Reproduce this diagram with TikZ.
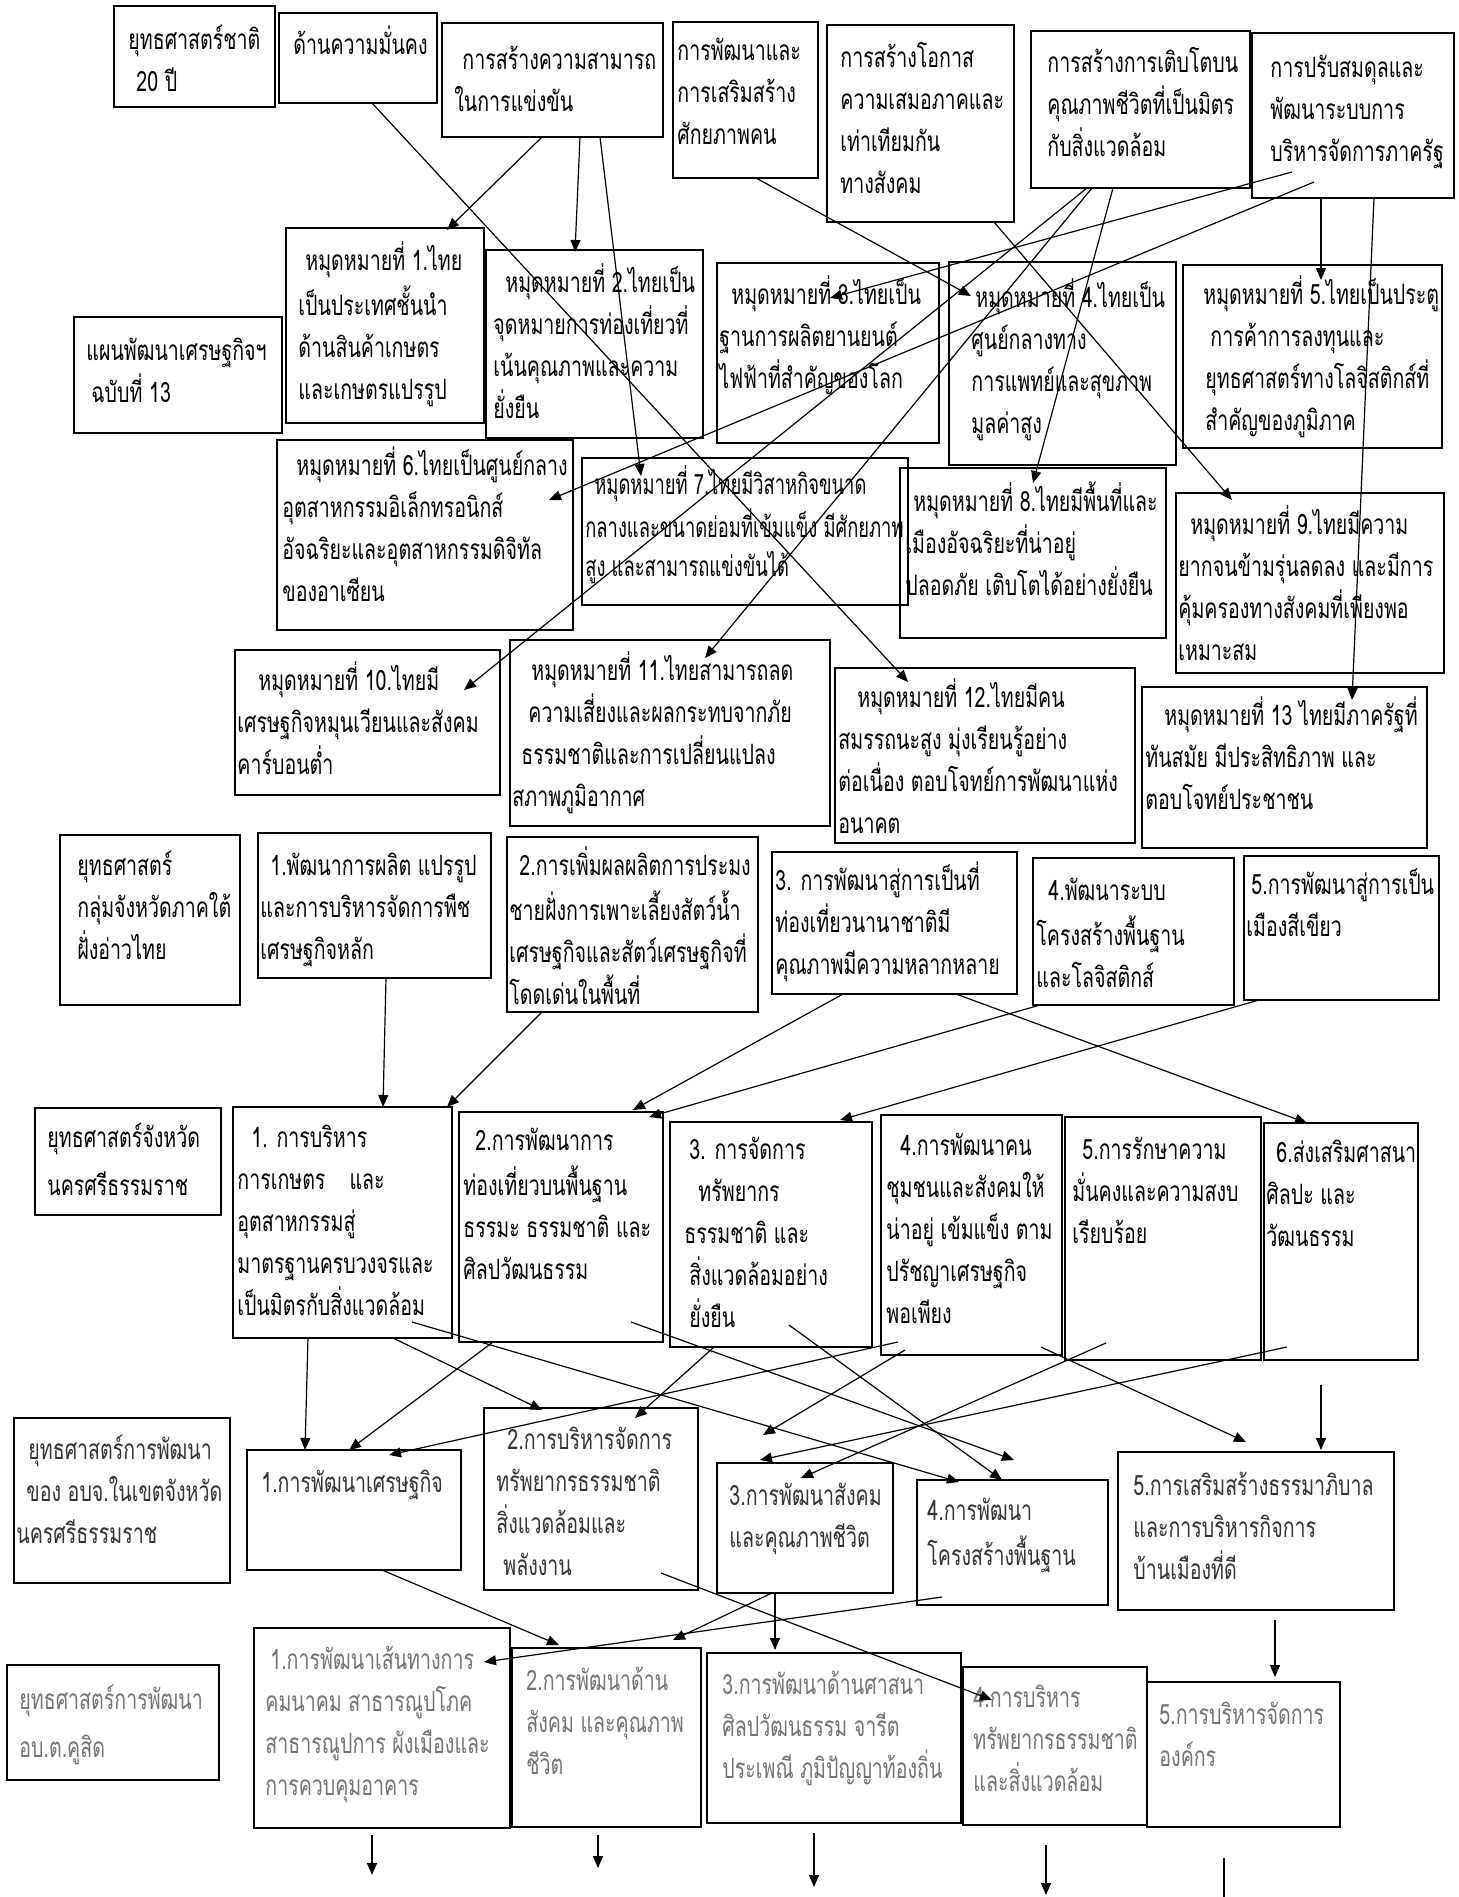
\documentclass[tikz,border=0pt]{standalone}
\usepackage{fontspec}
\newfontfamily\thaifont[Script=Thai,FakeStretch=0.70]{Loma}
\newfontfamily\thainarrow[Script=Thai,FakeStretch=0.655]{Loma}
\usetikzlibrary{calc,arrows.meta}
\newcommand\mkbox[5]{\node[box,minimum width=#4*0.5pt,minimum height=#5*0.5pt] (#1) at (#2,#3) {};}
\newcommand\boxlabel[5][]{\node[lbl,#1] (#2t) at ($(#2.north west)+(#3,#4)$) {\strut #5};}
\newcommand\indt[1]{\hspace*{#1pt}}
\begin{document}
\begin{tikzpicture}[x=0.5pt,y=-0.5pt,
  box/.style={draw,line width=1pt,anchor=north west,inner sep=0pt,outer sep=0pt},
  lbl/.style={anchor=north west,inner sep=0pt,align=left,font=\fontsize{14}{21}\thaifont},
  narrowtext/.style={font=\fontsize{14}{20}\thainarrow},
  qtext/.style={text=black!80},
  faded/.style={text=black!55},
  ln/.style={line width=0.6pt},
  arr/.style={line width=0.6pt,-{Triangle[length=6pt,width=5pt]}}]
\fill[white] (0,0) rectangle (1458,1897);
\useasboundingbox (0,0) rectangle (1458,1897);
% ---------- boxes ----------
\mkbox{A0}{114}{6}{161}{101}
\mkbox{A1}{279}{13}{158}{90}
\mkbox{A2}{442}{23}{221}{114}
\mkbox{A3}{673}{22}{145}{156}
\mkbox{A4}{827}{25}{187}{197}
\mkbox{A5}{1031}{31}{219}{157}
\mkbox{A6}{1252}{33}{202}{165}
\mkbox{M1}{286}{228}{198}{195}
\mkbox{M2}{486}{250}{217}{188}
\mkbox{M3}{717}{263}{222}{180}
\mkbox{M4}{949}{262}{227}{203}
\mkbox{M5}{1183}{265}{259}{183}
\mkbox{PL}{74}{317}{208}{116}
\mkbox{M6}{277}{440}{296}{190}
\mkbox{M7}{582}{458}{326}{147}
\mkbox{M8}{900}{468}{266}{170}
\mkbox{M9}{1176}{493}{268}{180}
\mkbox{M10}{235}{650}{265}{145}
\mkbox{M11}{510}{640}{320}{186}
\mkbox{M12}{835}{668}{300}{175}
\mkbox{M13}{1142}{687}{285}{161}
\mkbox{S0}{60}{835}{180}{170}
\mkbox{S1}{258}{833}{233}{145}
\mkbox{S2}{507}{837}{251}{175}
\mkbox{S3}{772}{852}{245}{142}
\mkbox{S4}{1033}{858}{201}{147}
\mkbox{S5}{1244}{856}{195}{144}
\mkbox{P0}{35}{1108}{186}{107}
\mkbox{P1}{233}{1107}{219}{231}
\mkbox{P2}{459}{1112}{204}{230}
\mkbox{P3}{670}{1122}{202}{225}
\mkbox{P4}{881}{1115}{181}{240}
\mkbox{P5}{1065}{1117}{196}{243}
\mkbox{P6}{1264}{1123}{154}{237}
\mkbox{Q0}{14}{1418}{216}{165}
\mkbox{Q1}{247}{1450}{214}{120}
\mkbox{Q2}{484}{1408}{214}{182}
\mkbox{Q3}{717}{1463}{176}{130}
\mkbox{Q4}{917}{1480}{191}{125}
\mkbox{Q5}{1118}{1452}{276}{158}
\mkbox{R0}{7}{1665}{212}{115}
\mkbox{R1}{254}{1628}{256}{200}
\mkbox{R2}{512}{1648}{189}{179}
\mkbox{R3}{707}{1653}{254}{170}
\mkbox{R4}{963}{1667}{184}{158}
\mkbox{R5}{1147}{1682}{193}{145}
% ---------- labels ----------
\boxlabel{A0}{14}{14}{ยุทธศาสตร์ชาติ\\\indt{4}20 ปี}
\boxlabel{A1}{14}{12}{ด้านความมั่นคง}
\boxlabel{A2}{12}{17}{\indt{4}การสร้างความสามารถ\\ในการแข่งขัน}
\boxlabel{A3}{4}{9}{การพัฒนาและ\\การเสริมสร้าง\\ศักยภาพคน}
\boxlabel{A4}{13}{13}{การสร้างโอกาส\\ความเสมอภาคและ\\เท่าเทียมกัน\\ทางสังคม}
\boxlabel{A5}{16}{12}{การสร้างการเติบโตบน\\คุณภาพชีวิตที่เป็นมิตร\\กับสิ่งแวดล้อม}
\boxlabel{A6}{18}{15}{การปรับสมดุลและ\\พัฒนาระบบการ\\บริหารจัดการภาครัฐ}
\boxlabel{M1}{12}{13}{\indt{3.5}หมุดหมายที่ 1.ไทย\\เป็นประเทศชั้นนำ\\ด้านสินค้าเกษตร\\และเกษตรแปรรูป}
\boxlabel{M2}{7}{13}{\indt{6}หมุดหมายที่ 2.ไทยเป็น\\จุดหมายการท่องเที่ยวที่\\เน้นคุณภาพและความ\\ยั่งยืน}
\boxlabel{M3}{2}{12}{\indt{6}หมุดหมายที่ 3.ไทยเป็น\\ฐานการผลิตยานยนต์\\ไฟฟ้าที่สำคัญของโลก}
\boxlabel{M4}{22}{16}{\indt{2}หมุดหมายที่ 4.ไทยเป็น\\ศูนย์กลางทาง\\การแพทย์และสุขภาพ\\มูลค่าสูง}
\boxlabel{M5}{20}{10}{หมุดหมายที่ 5.ไทยเป็นประตู\\\indt{3.5}การค้าการลงทุนและ\\\indt{1}ยุทธศาสตร์ทางโลจิสติกส์ที่\\\indt{1}สำคัญของภูมิภาค}
\boxlabel{PL}{12}{14}{แผนพัฒนาเศรษฐกิจฯ\\\indt{2.5}ฉบับที่ 13}
\boxlabel{M6}{5}{6}{\indt{7}หมุดหมายที่ 6.ไทยเป็นศูนย์กลาง\\อุตสาหกรรมอิเล็กทรอนิกส์\\อัจฉริยะและอุตสาหกรรมดิจิทัล\\ของอาเซียน}
\boxlabel[narrowtext]{M7}{3}{7}{\indt{4.5}หมุดหมายที่ 7.ไทยมีวิสาหกิจขนาด\\กลางและขนาดย่อมที่เข้มแข็ง มีศักยภาพ\\สูง และสามารถแข่งขันได้}
\boxlabel{M8}{5}{13}{\indt{4}หมุดหมายที่ 8.ไทยมีพื้นที่และ\\เมืองอัจฉริยะที่น่าอยู่\\ปลอดภัย เติบโตได้อย่างยั่งยืน}
\boxlabel{M9}{2}{12}{\indt{6}หมุดหมายที่ 9.ไทยมีความ\\ยากจนข้ามรุ่นลดลง และมีการ\\คุ้มครองทางสังคมที่เพียงพอ\\เหมาะสม}
\boxlabel{M10}{2}{11}{\indt{10.5}หมุดหมายที่ 10.ไทยมี\\เศรษฐกิจหมุนเวียนและสังคม\\คาร์บอนต่ำ}
\boxlabel{M11}{2}{11}{\indt{9.5}หมุดหมายที่ 11.ไทยสามารถลด\\\indt{8}ความเสี่ยงและผลกระทบจากภัย\\\indt{4.5}ธรรมชาติและการเปลี่ยนแปลง\\สภาพภูมิอากาศ}
\boxlabel{M12}{3}{10}{\indt{9.5}หมุดหมายที่ 12.ไทยมีคน\\สมรรถนะสูง มุ่งเรียนรู้อย่าง\\ต่อเนื่อง ตอบโจทย์การพัฒนาแห่ง\\อนาคต}
\boxlabel{M13}{3}{9}{\indt{9.5}หมุดหมายที่ 13 ไทยมีภาครัฐที่\\ทันสมัย มีประสิทธิภาพ และ\\ตอบโจทย์ประชาชน}
\boxlabel{S0}{17}{11}{ยุทธศาสตร์\\กลุ่มจังหวัดภาคใต้\\ฝั่งอ่าวไทย}
\boxlabel{S1}{2}{13}{\indt{5}1.พัฒนาการผลิต แปรรูป\\และการบริหารจัดการพืช\\เศรษฐกิจหลัก}
\boxlabel{S2}{2}{9}{\indt{5}2.การเพิ่มผลผลิตการประมง\\ชายฝั่งการเพาะเลี้ยงสัตว์น้ำ\\เศรษฐกิจและสัตว์เศรษฐกิจที่\\โดดเด่นในพื้นที่}
\boxlabel{S3}{3}{9}{3. การพัฒนาสู่การเป็นที่\\ท่องเที่ยวนานาชาติมี\\คุณภาพมีความหลากหลาย}
\boxlabel{S4}{3}{13}{\indt{6}4.พัฒนาระบบ\\โครงสร้างพื้นฐาน\\และโลจิสติกส์}
\boxlabel{S5}{2}{9}{\indt{2.5}5.การพัฒนาสู่การเป็น\\เมืองสีเขียว}
\boxlabel{P0}{12}{10}{ยุทธศาสตร์จังหวัด\\[3pt]นครศรีธรรมราช}
\boxlabel{P1}{4}{11}{\indt{7}1. การบริหาร\\การเกษตร\hspace{12pt}และ\\อุตสาหกรรมสู่\\มาตรฐานครบวงจรและ\\เป็นมิตรกับสิ่งแวดล้อม}
\boxlabel{P2}{4}{9}{\indt{6}2.การพัฒนาการ\\ท่องเที่ยวบนพื้นฐาน\\ธรรมะ ธรรมชาติ และ\\ศิลปวัฒนธรรม}
\boxlabel{P3}{14}{8}{\indt{2.5}3. การจัดการ\\\indt{7}ทรัพยากร\\ธรรมชาติ และ\\\indt{2.5}สิ่งแวดล้อมอย่าง\\\indt{2.5}ยั่งยืน}
\boxlabel{P4}{5}{11}{\indt{7}4.การพัฒนาคน\\ชุมชนและสังคมให้\\น่าอยู่ เข้มแข็ง ตาม\\ปรัชญาเศรษฐกิจ\\พอเพียง}
\boxlabel{P5}{7}{13}{\indt{5}5.การรักษาความ\\มั่นคงและความสงบ\\เรียบร้อย}
\boxlabel{P6}{2}{10}{\indt{5}6.ส่งเสริมศาสนา\\ศิลปะ และ\\วัฒนธรรม}
\boxlabel[qtext]{Q0}{2}{12}{\indt{6}ยุทธศาสตร์การพัฒนา\\\indt{5}ของ อบจ.ในเขตจังหวัด\\นครศรีธรรมราช}
\boxlabel[qtext]{Q1}{14}{13}{1.การพัฒนาเศรษฐกิจ}
\boxlabel[qtext]{Q2}{12}{12}{\indt{5.5}2.การบริหารจัดการ\\ทรัพยากรธรรมชาติ\\สิ่งแวดล้อมและ\\\indt{3.5}พลังงาน}
\boxlabel[qtext]{Q3}{12}{13}{3.การพัฒนาสังคม\\และคุณภาพชีวิต}
\boxlabel[qtext]{Q4}{10}{11}{4.การพัฒนา\\โครงสร้างพื้นฐาน}
\boxlabel[qtext]{Q5}{15}{14}{5.การเสริมสร้างธรรมาภิบาล\\และการบริหารกิจการ\\บ้านเมืองที่ดี}
\boxlabel[faded]{R0}{12}{15}{ยุทธศาสตร์การพัฒนา\\[3pt]อบ.ต.คูสิด}
\boxlabel[faded]{R1}{11}{12}{\indt{2.5}1.การพัฒนาเส้นทางการ\\คมนาคม สาธารณูปโภค\\สาธารณูปการ ผังเมืองและ\\การควบคุมอาคาร}
\boxlabel[faded]{R2}{14}{13}{2.การพัฒนาด้าน\\สังคม และคุณภาพ\\ชีวิต}
\boxlabel[faded]{R3}{15}{12}{3.การพัฒนาด้านศาสนา\\ศิลปวัฒนธรรม จารีต\\ประเพณี ภูมิปัญญาท้องถิ่น}
\boxlabel[faded]{R4}{10}{11}{4.การบริหาร\\ทรัพยากรธรรมชาติ\\และสิ่งแวดล้อม}
\boxlabel[faded]{R5}{12}{13}{5.การบริหารจัดการ\\องค์กร}
% ---------- connectors: national strategy -> milestones ----------
\draw[arr] ($(A1.north west)+(93,90)$) -- ($(M12.north west)+(73,14)$);
\draw[arr] ($(A2.north west)+(100,114)$) -- ($(M1.north west)+(161,2)$);
\draw[arr] ($(A2.north west)+(138,114)$) -- ($(M2.north west)+(89,2)$);
\draw[arr] ($(A2.north west)+(158,114)$) -- ($(M7.north west)+(59,18)$);
\draw[arr] ($(A3.north west)+(83,156)$) -- ($(M4.north west)+(22,34)$);
\draw[arr] ($(A4.north west)+(167,197)$) -- ($(M9.north west)+(56,7)$);
\draw[arr] ($(A5.north west)+(82,157)$) -- ($(M8.north west)+(133,15)$);
\draw[arr] ($(A5.north west)+(56,157)$) -- ($(M10.north west)+(229,40)$);
\draw[arr] ($(A5.north west)+(61,157)$) -- ($(M11.north west)+(195,18)$);
\draw[arr] ($(A6.north west)+(40,139)$) -- ($(M3.north west)+(113,35)$);
\draw[arr] ($(A6.north west)+(62,149)$) -- ($(M6.north west)+(272,60)$);
\draw[arr] ($(A6.north west)+(69,165)$) -- ($(M5.north west)+(138,15)$);
\draw[arr] ($(A6.north west)+(122,165)$) -- ($(M13.north west)+(210,13)$);
% ---------- group strategy -> province strategy ----------
\draw[arr] ($(S1.north west)+(128,145)$) -- ($(P1.north west)+(150,0)$);
\draw[arr] ($(S2.north west)+(35,175)$) -- ($(P1.north west)+(214,0)$);
\draw[arr] ($(S3.north west)+(71,142)$) -- ($(P2.north west)+(174,-2)$);
\draw[arr] ($(S4.north west)+(7,147)$) -- ($(P2.north west)+(190,5)$);
\draw[arr] ($(S3.north west)+(184,142)$) -- ($(P6.north west)+(43,0)$);
\draw[arr] ($(S5.north west)+(15,144)$) -- ($(P3.north west)+(170,-2)$);
% ---------- province strategy -> PAO strategy ----------
\draw[arr] ($(P1.north west)+(75,231)$) -- ($(Q1.north west)+(58,0)$);
\draw[arr] ($(P1.north west)+(160,231)$) -- ($(Q2.north west)+(58,2)$);
\draw[arr] ($(P1.north west)+(179,215)$) -- ($(Q4.north west)+(42,2)$);
\draw[arr] ($(P2.north west)+(34,230)$) -- ($(Q1.north west)+(102,0)$);
\draw[arr] ($(P2.north west)+(172,210)$) -- ($(Q4.north west)+(97,-20)$);
\draw[arr] ($(P3.north west)+(44,225)$) -- ($(Q2.north west)+(151,10)$);
\draw[arr] ($(P3.north west)+(119,203)$) -- ($(Q4.north west)+(85,0)$);
\draw[arr] ($(P4.north west)+(17,227)$) -- ($(Q1.north west)+(142,5)$);
\draw[arr] ($(P4.north west)+(24,235)$) -- ($(Q3.north west)+(46,-28)$);
\draw[arr] ($(P4.north west)+(160,232)$) -- ($(Q5.north west)+(128,-10)$);
\draw[arr] ($(P5.north west)+(41,226)$) -- ($(Q3.north west)+(84,15)$);
\draw[arr] ($(P6.north west)+(23,224)$) -- ($(Q3.north west)+(43,-3)$);
\draw[arr] ($(P6.north west)+(57,262)$) -- ($(Q5.north west)+(203,-2)$);
% ---------- PAO strategy -> SAO strategy ----------
\draw[arr] ($(Q1.north west)+(135,120)$) -- ($(R2.north west)+(47,-3)$);
\draw[arr] ($(Q2.north west)+(177,165)$) -- ($(R4.north west)+(29,33)$);
\draw[arr] ($(Q3.north west)+(58,130)$) -- ($(R3.north west)+(68,-3)$);
\draw[arr] ($(Q3.north west)+(55,130)$) -- ($(R2.north west)+(161,-8)$);
\draw[arr] ($(Q4.north west)+(25,117)$) -- ($(R1.north west)+(230,34)$);
\draw[arr] ($(Q5.north west)+(157,168)$) -- ($(R5.north west)+(128,-5)$);
% ---------- open ends at the bottom ----------
\coordinate (e1) at ($(R1.north west)+(118,247)$);
\coordinate (e2) at ($(R2.north west)+(86,220)$);
\coordinate (e3) at ($(R3.north west)+(107,234)$);
\coordinate (e4) at ($(R4.north west)+(83,228)$);
\coordinate (e5) at ($(R5.north west)+(77,215)$);
\draw[arr] ($(R1.north west)+(118,207)$) -- (e1);
\draw[arr] ($(R2.north west)+(86,187)$) -- (e2);
\draw[arr] ($(R3.north west)+(107,180)$) -- (e3);
\draw[arr] ($(R4.north west)+(83,178)$) -- (e4);
\draw[ln] ($(R5.north west)+(77,176)$) -- (e5);
\end{tikzpicture}
\end{document}
